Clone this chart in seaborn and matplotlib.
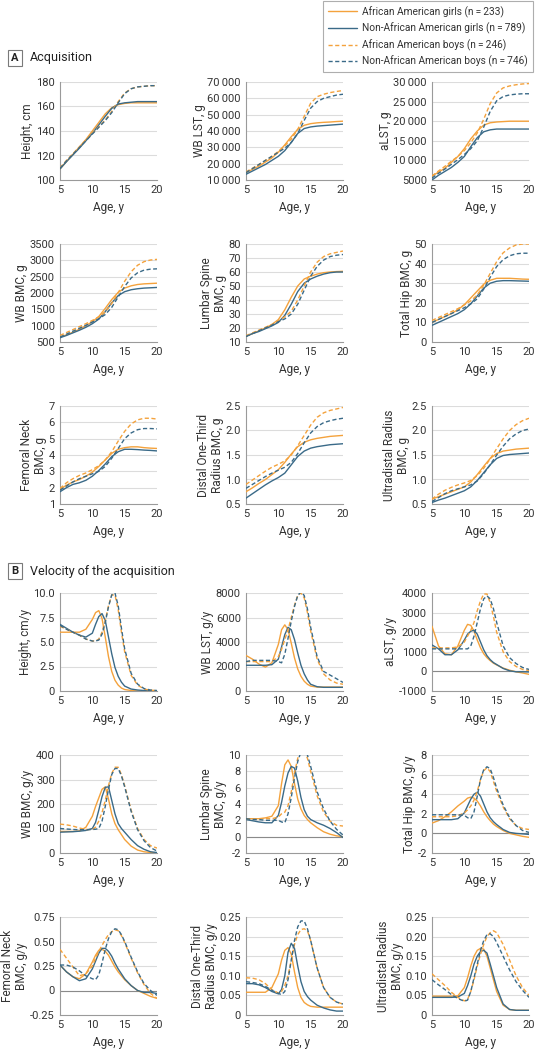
import matplotlib
matplotlib.use("Agg")
import matplotlib.pyplot as plt
from matplotlib.lines import Line2D
import seaborn as sns
import numpy as np

sns.set_style("white")
plt.rcParams["font.family"] = ["Roboto", "DejaVu Sans"]

# ---------------- data ----------------
series_names = ["African American girls (n\u2009=\u2009233)",
                "Non-African American girls (n\u2009=\u2009789)",
                "African American boys (n\u2009=\u2009246)",
                "Non-African American boys (n\u2009=\u2009746)"]

ages_acq = [5, 6, 7, 8, 9, 10, 11, 12, 13, 14, 15, 16, 17, 18, 19, 20]
ages_vel = [5, 6, 7, 8, 9, 10, 10.5, 11, 11.5, 12, 12.5, 13, 13.5, 14, 14.5, 15, 16, 17, 18, 19, 20]

# Acquisition: [AA girls, NAA girls, AA boys, NAA boys]
acq_height = [
    [109, 115, 121, 127, 133, 140, 147, 154, 159, 161.5, 162.5, 163, 163, 163, 163, 163],
    [109, 115, 120.5, 126, 132, 138, 145, 152, 158.5, 162, 163, 163.5, 164, 164, 164, 164],
    [110, 116, 121.5, 127, 132.5, 138, 143.5, 149, 156, 164, 171, 174.5, 176, 176.5, 177, 177],
    [109.5, 115.5, 121, 126.5, 132, 137.5, 143, 148.5, 155, 163, 170.5, 174.5, 176, 176.5, 177, 177],
]
acq_wblst = [
    [14500, 16500, 18500, 21000, 23500, 27000, 31500, 36500, 41000, 43500, 44500, 45000, 45300, 45500, 45800, 46000],
    [13500, 15500, 17500, 19500, 22000, 24500, 28000, 33000, 38500, 41500, 42500, 43000, 43300, 43600, 43900, 44200],
    [15000, 17200, 19500, 22000, 24500, 27500, 31000, 35000, 41000, 49000, 57000, 61000, 62500, 63500, 64200, 64800],
    [14500, 17000, 19500, 22000, 24500, 27000, 29500, 33000, 38500, 46500, 54000, 58000, 60000, 61000, 62000, 62500],
]
acq_alst = [
    [6000, 7000, 8000, 9500, 11000, 13000, 15500, 17500, 19000, 19600, 19800, 19900, 20000, 20000, 20000, 20000],
    [5000, 6200, 7200, 8200, 9500, 11000, 13500, 15800, 17300, 17800, 18000, 18000, 18000, 18000, 18000, 18000],
    [6000, 7300, 8500, 9800, 11000, 12500, 14500, 17000, 20500, 24500, 27200, 28500, 29000, 29300, 29500, 29600],
    [5500, 6700, 7800, 9000, 10200, 11500, 13000, 15000, 18500, 22500, 25200, 26300, 26700, 26900, 27000, 27000],
]
acq_wbbmc = [
    [650, 720, 800, 890, 1000, 1120, 1280, 1530, 1800, 2020, 2150, 2220, 2260, 2280, 2290, 2300],
    [630, 700, 780, 860, 950, 1060, 1200, 1430, 1700, 1920, 2040, 2100, 2130, 2150, 2160, 2170],
    [700, 790, 880, 970, 1060, 1160, 1270, 1420, 1680, 2010, 2360, 2650, 2850, 2960, 3010, 3030],
    [650, 740, 830, 920, 1010, 1110, 1210, 1340, 1560, 1880, 2200, 2460, 2620, 2700, 2730, 2740],
]
acq_spine = [
    [14, 16, 18, 20, 22.5, 26, 33, 42, 50, 55, 57, 58.5, 59.5, 60, 60.3, 60.5],
    [14, 16, 17.5, 19.5, 21.5, 24, 29, 37, 46, 52, 55, 57, 58.5, 59.5, 60, 60],
    [14.5, 16.5, 18.5, 20.5, 22.5, 25, 28, 32, 40, 50, 60, 67, 71, 73, 74, 75],
    [14, 16, 18, 20, 22, 24.5, 26.5, 30, 37, 47, 57, 64, 68.5, 71, 72, 72.5],
]
acq_hip = [
    [10, 11.5, 13, 14.5, 16.5, 19, 22.5, 26, 29.5, 31.5, 32.5, 32.5, 32.5, 32.3, 32.1, 32],
    [8.5, 10, 11.5, 13, 14.5, 16.5, 19.5, 23.5, 27.5, 30, 31, 31.3, 31.3, 31.2, 31.1, 31],
    [11, 12.5, 14, 15.5, 17, 19, 21, 24, 29, 35, 41, 45.5, 48, 49.5, 50, 50],
    [10, 11.5, 13, 14.5, 16, 17.5, 19.5, 22, 27, 33, 38.5, 42, 44, 45, 45.3, 45.3],
]
acq_neck = [
    [1.9, 2.15, 2.35, 2.5, 2.7, 2.95, 3.3, 3.7, 4.1, 4.35, 4.45, 4.5, 4.5, 4.45, 4.42, 4.4],
    [1.75, 2.0, 2.2, 2.3, 2.45, 2.7, 3.05, 3.45, 3.9, 4.2, 4.35, 4.35, 4.33, 4.3, 4.28, 4.25],
    [1.95, 2.3, 2.55, 2.75, 2.9, 3.1, 3.35, 3.7, 4.2, 4.85, 5.45, 5.9, 6.15, 6.25, 6.25, 6.2],
    [1.85, 2.1, 2.35, 2.55, 2.7, 2.85, 3.0, 3.3, 3.8, 4.4, 5.0, 5.35, 5.55, 5.62, 5.62, 5.6],
]
acq_distal = [
    [0.75, 0.83, 0.92, 1.0, 1.1, 1.2, 1.35, 1.52, 1.67, 1.76, 1.81, 1.84, 1.86, 1.88, 1.89, 1.9],
    [0.62, 0.71, 0.8, 0.89, 0.97, 1.04, 1.13, 1.3, 1.47, 1.58, 1.64, 1.67, 1.69, 1.71, 1.72, 1.73],
    [0.9, 0.99, 1.08, 1.17, 1.25, 1.31, 1.38, 1.5, 1.69, 1.9, 2.11, 2.27, 2.36, 2.41, 2.44, 2.47],
    [0.82, 0.9, 0.98, 1.06, 1.13, 1.19, 1.25, 1.35, 1.53, 1.75, 1.95, 2.08, 2.16, 2.2, 2.23, 2.25],
]
acq_ultra = [
    [0.6, 0.65, 0.7, 0.75, 0.8, 0.85, 0.95, 1.1, 1.27, 1.43, 1.53, 1.58, 1.6, 1.62, 1.63, 1.64],
    [0.53, 0.58, 0.62, 0.67, 0.72, 0.77, 0.85, 0.98, 1.14, 1.3, 1.43, 1.49, 1.51, 1.52, 1.53, 1.54],
    [0.6, 0.7, 0.78, 0.84, 0.89, 0.93, 0.98, 1.08, 1.23, 1.42, 1.63, 1.83, 2.0, 2.12, 2.2, 2.25],
    [0.55, 0.63, 0.71, 0.77, 0.81, 0.85, 0.89, 0.97, 1.12, 1.3, 1.5, 1.68, 1.83, 1.93, 2.0, 2.03],
]

# Velocity
vel_height = [
    [6.0, 6.0, 6.0, 6.0, 6.3, 7.3, 8.0, 8.2, 7.4, 5.5, 3.5, 2.0, 1.1, 0.6, 0.3, 0.15, 0.05, 0, 0, 0, 0],
    [6.8, 6.4, 6.0, 5.7, 5.5, 5.9, 6.8, 7.6, 7.9, 7.2, 5.5, 3.8, 2.4, 1.5, 0.9, 0.5, 0.2, 0.1, 0.05, 0.02, 0],
    [6.6, 6.3, 6.0, 5.7, 5.3, 5.1, 5.1, 5.3, 6.0, 7.2, 8.7, 9.8, 9.8, 8.3, 6.0, 4.0, 1.6, 0.6, 0.2, 0.08, 0.05],
    [6.7, 6.3, 6.0, 5.7, 5.3, 5.1, 5.1, 5.2, 5.8, 7.0, 8.6, 9.8, 10.0, 8.7, 6.4, 4.3, 1.8, 0.7, 0.25, 0.1, 0.05],
]
vel_wblst = [
    [2900, 2600, 2200, 1950, 2300, 3800, 5000, 5400, 5000, 3900, 2700, 1800, 1200, 800, 550, 400, 320, 320, 320, 320, 320],
    [2100, 2100, 2100, 2100, 2150, 2600, 3600, 4600, 5200, 5000, 4200, 3100, 2100, 1400, 900, 550, 350, 300, 300, 300, 300],
    [2400, 2400, 2400, 2400, 2400, 2800, 3400, 4200, 5000, 6000, 7000, 7800, 8000, 7600, 6400, 4900, 2600, 1400, 900, 650, 550],
    [2400, 2500, 2500, 2500, 2500, 2400, 2300, 3000, 4300, 5700, 6900, 7800, 8100, 7800, 6700, 5200, 2800, 1600, 1300, 1000, 700],
]
vel_alst = [
    [2300, 1300, 900, 850, 1300, 2100, 2400, 2350, 2050, 1600, 1200, 900, 700, 550, 420, 330, 170, 60, -20, -80, -150],
    [1350, 1150, 850, 850, 1100, 1600, 1900, 2050, 2100, 1900, 1500, 1100, 800, 600, 450, 350, 150, 30, -20, -20, -30],
    [1200, 1200, 1200, 1200, 1250, 1500, 1800, 2100, 2500, 3100, 3600, 3950, 3950, 3500, 2800, 2000, 1000, 500, 250, 100, 50],
    [1150, 1150, 1150, 1150, 1150, 1150, 1150, 1300, 1800, 2500, 3200, 3700, 3850, 3700, 3200, 2500, 1300, 700, 400, 200, 100],
]
vel_wbbmc = [
    [88, 88, 88, 90, 105, 150, 190, 225, 260, 270, 220, 160, 120, 95, 75, 55, 28, 12, 5, 2, 0],
    [85, 86, 87, 89, 92, 100, 125, 175, 230, 268, 270, 215, 160, 120, 100, 85, 55, 30, 15, 5, 2],
    [118, 115, 110, 102, 96, 96, 105, 130, 165, 215, 275, 325, 350, 350, 320, 275, 175, 100, 55, 30, 20],
    [100, 98, 96, 95, 95, 96, 97, 100, 130, 190, 260, 320, 345, 345, 315, 270, 170, 95, 50, 22, 8],
]
vel_spine = [
    [2.2, 2.2, 2.2, 2.3, 2.5, 3.8, 6.5, 8.8, 9.4, 8.6, 6.5, 4.6, 3.4, 2.6, 2.1, 1.7, 1.1, 0.6, 0.3, 0.1, 0.0],
    [2.1, 1.95, 1.8, 1.7, 1.7, 2.6, 4.2, 6.2, 7.8, 8.6, 8.4, 6.8, 4.8, 3.3, 2.5, 2.1, 1.7, 1.4, 1.0, 0.5, -0.1],
    [2.2, 2.2, 2.2, 2.2, 2.2, 2.4, 2.8, 3.0, 3.8, 5.5, 7.8, 9.6, 10.4, 10.5, 9.6, 8.0, 5.0, 3.0, 1.9, 1.4, 1.3],
    [2.2, 2.1, 2.1, 2.0, 2.0, 2.0, 1.8, 1.7, 2.8, 4.8, 7.2, 9.2, 10.4, 10.6, 10.0, 8.6, 5.5, 3.4, 1.9, 0.9, 0.2],
]
vel_hip = [
    [1.05, 1.3, 1.7, 2.2, 2.8, 3.3, 3.6, 3.7, 3.6, 3.3, 2.8, 2.2, 1.7, 1.3, 0.95, 0.7, 0.3, 0.0, -0.15, -0.3, -0.4],
    [1.4, 1.4, 1.4, 1.4, 1.5, 2.1, 2.8, 3.5, 4.0, 4.2, 3.8, 3.0, 2.2, 1.6, 1.2, 0.9, 0.4, 0.1, 0.0, -0.05, -0.1],
    [1.7, 1.7, 1.7, 1.7, 1.8, 2.1, 2.4, 2.8, 3.4, 4.3, 5.5, 6.4, 6.7, 6.3, 5.3, 4.3, 2.7, 1.5, 0.8, 0.5, 0.4],
    [1.9, 1.9, 1.9, 1.9, 1.9, 1.85, 1.6, 1.5, 2.2, 3.8, 5.5, 6.5, 6.8, 6.6, 5.7, 4.6, 2.9, 1.6, 0.8, 0.3, 0.1],
]
vel_neck = [
    [0.26, 0.19, 0.14, 0.12, 0.17, 0.29, 0.36, 0.41, 0.42, 0.40, 0.36, 0.30, 0.24, 0.19, 0.15, 0.11, 0.05, 0.0, -0.03, -0.06, -0.08],
    [0.26, 0.19, 0.14, 0.10, 0.12, 0.22, 0.30, 0.38, 0.43, 0.43, 0.40, 0.35, 0.28, 0.22, 0.17, 0.12, 0.05, 0.0, -0.02, -0.02, -0.03],
    [0.42, 0.33, 0.24, 0.15, 0.17, 0.25, 0.33, 0.40, 0.46, 0.52, 0.57, 0.60, 0.62, 0.61, 0.56, 0.49, 0.33, 0.18, 0.06, -0.03, -0.08],
    [0.26, 0.26, 0.24, 0.20, 0.15, 0.12, 0.11, 0.16, 0.28, 0.42, 0.53, 0.60, 0.63, 0.62, 0.57, 0.50, 0.34, 0.19, 0.07, 0.0, -0.05],
]
vel_distal = [
    [0.058, 0.058, 0.058, 0.058, 0.07, 0.105, 0.14, 0.165, 0.172, 0.155, 0.11, 0.07, 0.045, 0.032, 0.026, 0.022, 0.02, 0.02, 0.02, 0.02, 0.02],
    [0.08, 0.08, 0.077, 0.07, 0.06, 0.054, 0.065, 0.10, 0.16, 0.183, 0.17, 0.125, 0.085, 0.06, 0.047, 0.038, 0.025, 0.018, 0.013, 0.01, 0.01],
    [0.095, 0.094, 0.09, 0.08, 0.065, 0.056, 0.06, 0.075, 0.10, 0.14, 0.18, 0.205, 0.218, 0.22, 0.215, 0.19, 0.12, 0.07, 0.045, 0.033, 0.028],
    [0.085, 0.083, 0.08, 0.073, 0.063, 0.055, 0.052, 0.06, 0.09, 0.14, 0.19, 0.225, 0.24, 0.24, 0.22, 0.19, 0.12, 0.07, 0.045, 0.033, 0.028],
]
vel_ultra = [
    [0.048, 0.048, 0.048, 0.048, 0.049, 0.07, 0.095, 0.125, 0.15, 0.165, 0.17, 0.168, 0.15, 0.12, 0.09, 0.06, 0.025, 0.014, 0.012, 0.012, 0.012],
    [0.045, 0.045, 0.045, 0.045, 0.046, 0.055, 0.075, 0.10, 0.13, 0.15, 0.162, 0.165, 0.158, 0.13, 0.10, 0.07, 0.028, 0.014, 0.012, 0.012, 0.012],
    [0.105, 0.09, 0.075, 0.058, 0.045, 0.036, 0.04, 0.06, 0.09, 0.125, 0.155, 0.18, 0.20, 0.21, 0.215, 0.21, 0.18, 0.14, 0.10, 0.07, 0.05],
    [0.09, 0.077, 0.065, 0.052, 0.042, 0.035, 0.038, 0.06, 0.095, 0.13, 0.165, 0.19, 0.205, 0.207, 0.20, 0.185, 0.15, 0.115, 0.085, 0.063, 0.045],
]

# labels and ticks
acq_ylabels = ["Height, cm", "WB LST, g", "aLST, g",
               "WB BMC, g", "Lumbar Spine\nBMC, g", "Total Hip BMC, g",
               "Femoral Neck\nBMC, g", "Distal One-Third\nRadius BMC, g", "Ultradistal Radius\nBMC, g"]
vel_ylabels = ["Height, cm/y", "WB LST, g/y", "aLST, g/y",
               "WB BMC, g/y", "Lumbar Spine\nBMC, g/y", "Total Hip BMC, g/y",
               "Femoral Neck\nBMC, g/y", "Distal One-Third\nRadius BMC, g/y", "Ultradistal Radius\nBMC, g/y"]

acq_yticks = [[100, 120, 140, 160, 180],
              [10000, 20000, 30000, 40000, 50000, 60000, 70000],
              [5000, 10000, 15000, 20000, 25000, 30000],
              [500, 1000, 1500, 2000, 2500, 3000, 3500],
              [10, 20, 30, 40, 50, 60, 70, 80],
              [0, 10, 20, 30, 40, 50],
              [1, 2, 3, 4, 5, 6, 7],
              [0.5, 1.0, 1.5, 2.0, 2.5],
              [0.5, 1.0, 1.5, 2.0, 2.5]]
acq_yticklabels = [["100", "120", "140", "160", "180"],
                   ["10\u2009000", "20\u2009000", "30\u2009000", "40\u2009000", "50\u2009000", "60\u2009000", "70\u2009000"],
                   ["5000", "10\u2009000", "15\u2009000", "20\u2009000", "25\u2009000", "30\u2009000"],
                   ["500", "1000", "1500", "2000", "2500", "3000", "3500"],
                   ["10", "20", "30", "40", "50", "60", "70", "80"],
                   ["0", "10", "20", "30", "40", "50"],
                   ["1", "2", "3", "4", "5", "6", "7"],
                   ["0.5", "1.0", "1.5", "2.0", "2.5"],
                   ["0.5", "1.0", "1.5", "2.0", "2.5"]]
vel_yticks = [[0, 2.5, 5.0, 7.5, 10.0],
              [0, 2000, 4000, 6000, 8000],
              [-1000, 0, 1000, 2000, 3000, 4000],
              [0, 100, 200, 300, 400],
              [-2, 0, 2, 4, 6, 8, 10],
              [-2, 0, 2, 4, 6, 8],
              [-0.25, 0, 0.25, 0.50, 0.75],
              [0, 0.05, 0.10, 0.15, 0.20, 0.25],
              [0, 0.05, 0.10, 0.15, 0.20, 0.25]]
vel_yticklabels = [["0", "2.5", "5.0", "7.5", "10.0"],
                   ["0", "2000", "4000", "6000", "8000"],
                   ["-1000", "0", "1000", "2000", "3000", "4000"],
                   ["0", "100", "200", "300", "400"],
                   ["-2", "0", "2", "4", "6", "8", "10"],
                   ["-2", "0", "2", "4", "6", "8"],
                   ["-0.25", "0", "0.25", "0.50", "0.75"],
                   ["0", "0.05", "0.10", "0.15", "0.20", "0.25"],
                   ["0", "0.05", "0.10", "0.15", "0.20", "0.25"]]
x_ticks = [5, 10, 15, 20]

# ---------------- styling ----------------
ORANGE = "#F4A23C"
BLUE = "#3A6A88"
colors = [ORANGE, BLUE, ORANGE, BLUE]
styles = ["-", "-", (0, (3, 1.8)), (0, (3, 1.8))]
TXT = "#333333"
SPINE = "#9a9a9a"
GRID = "#dcdcdc"
TICK_FS = 8
LAB_FS = 8.5

W, H = 535, 1050
fig = plt.figure(figsize=(W / 100, H / 100), dpi=100)

col_left = [60, 246, 432]
row_top_a = [82, 244, 406]
row_top_b = [593, 755, 917]
ax_w, ax_h = 97, 98


def make_ax(left, top):
    return fig.add_axes([left / W, (H - top - ax_h) / H, ax_w / W, ax_h / H])


def draw_panel(ax, ages, data, ticks, ticklabels, ylabel):
    for ys, c, ls in zip(data, colors, styles):
        sns.lineplot(x=ages, y=ys, ax=ax, color=c, linestyle=ls, linewidth=1.0,
                     estimator=None, sort=False, legend=False, zorder=3)
    ax.set_xlim(5, 20)
    ax.set_ylim(ticks[0], ticks[-1])
    ax.set_xticks(x_ticks)
    ax.set_xticklabels([str(t) for t in x_ticks])
    ax.set_yticks(ticks)
    ax.set_yticklabels(ticklabels)
    for t in ticks[1:]:
        ax.axhline(t, color=GRID, lw=0.8, zorder=1)
    if ticks[0] < 0:
        ax.axhline(0, color="#8a8a8a", lw=0.8, zorder=2)
    for s in ["top", "right"]:
        ax.spines[s].set_visible(False)
    for s in ["left", "bottom"]:
        ax.spines[s].set_color(SPINE)
        ax.spines[s].set_linewidth(0.8)
    ax.tick_params(axis="both", direction="out", length=2.5, width=0.8, color=SPINE,
                   labelsize=TICK_FS, labelcolor=TXT, pad=1.2)
    ax.set_xlabel("Age, y", fontsize=LAB_FS, color=TXT, labelpad=4)
    ax.set_ylabel(ylabel, fontsize=LAB_FS, color=TXT, labelpad=1.2, linespacing=1.1)
    ax.set_facecolor("none")


acq_data = [acq_height, acq_wblst, acq_alst, acq_wbbmc, acq_spine, acq_hip,
            acq_neck, acq_distal, acq_ultra]
vel_data = [vel_height, vel_wblst, vel_alst, vel_wbbmc, vel_spine, vel_hip,
            vel_neck, vel_distal, vel_ultra]

for i in range(9):
    r, c = divmod(i, 3)
    ax = make_ax(col_left[c], row_top_a[r])
    draw_panel(ax, ages_acq, acq_data[i], acq_yticks[i], acq_yticklabels[i], acq_ylabels[i])
    ax = make_ax(col_left[c], row_top_b[r])
    draw_panel(ax, ages_vel, vel_data[i], vel_yticks[i], vel_yticklabels[i], vel_ylabels[i])

# section headers
box = dict(boxstyle="square,pad=0.3", facecolor="white", edgecolor="#7a7a7a", linewidth=0.8)
fig.text(15 / W, 1 - 58 / H, "A", fontsize=8, fontweight="bold", color="#222222",
         ha="center", va="center", bbox=box)
fig.text(30 / W, 1 - 58 / H, "Acquisition", fontsize=9, color="#222222", ha="left", va="center")
fig.text(15 / W, 1 - 571 / H, "B", fontsize=8, fontweight="bold", color="#222222",
         ha="center", va="center", bbox=box)
fig.text(30 / W, 1 - 571 / H, "Velocity of the acquisition", fontsize=9, color="#222222",
         ha="left", va="center")

# legend
handles = [Line2D([0], [0], color=c, linestyle=ls, lw=1.0) for c, ls in zip(colors, styles)]
leg = fig.legend(handles, series_names, loc="upper right",
                 bbox_to_anchor=(533 / W, 1 - 1 / H), fontsize=7.3, frameon=True,
                 fancybox=False, edgecolor="#9a9a9a", handlelength=2.9, handletextpad=0.5,
                 labelspacing=0.5, borderpad=0.5, borderaxespad=0)
leg.get_frame().set_linewidth(0.8)
for t in leg.get_texts():
    t.set_color(TXT)

fig.savefig("out.png", dpi=100)
